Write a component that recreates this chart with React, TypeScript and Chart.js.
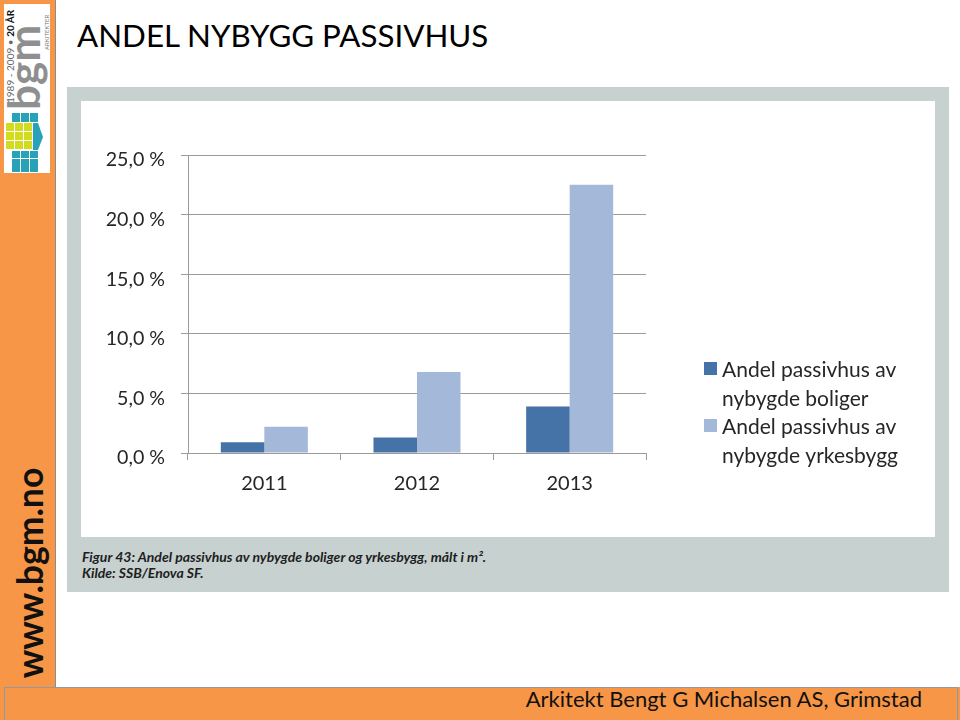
import React, { useEffect, useRef } from "react";
import { Chart, registerables } from "chart.js";

Chart.register(...registerables);

// ---- data ----
const categories = ["2011", "2012", "2013"];
const boligerValues = [0.9, 1.3, 3.9];
const yrkesbyggValues = [2.2, 6.8, 22.5];
const seriesLegendLines = [
  ["Andel passivhus av", "nybygde boliger"],
  ["Andel passivhus av", "nybygde yrkesbygg"],
];
const yTickValues = [0, 5, 10, 15, 20, 25];
const yTickLabels = ["0,0 %", "5,0 %", "10,0 %", "15,0 %", "20,0 %", "25,0 %"];

const FONT = "Lato, 'Open Sans', sans-serif";
const DARK = "#4572a7";
const LIGHT = "#a4b8da";
const GRID = "#9b9b9b";
const TEXT = "#262626";
const ORANGE = "#f79646";

const wrappedLegend = {
  id: "wrappedLegend",
  afterDraw(chart: any) {
    const ctx = chart.ctx;
    ctx.save();
    const boxX = 623;
    const textX = 641;
    const firstBaseline = 276;
    const lineH = 28.5;
    let line = 0;
    chart.data.datasets.forEach((ds: any, i: number) => {
      const lines = seriesLegendLines[i];
      const base = firstBaseline + line * lineH;
      ctx.fillStyle = ds.backgroundColor;
      ctx.fillRect(boxX, base - 15, 13, 13);
      ctx.fillStyle = TEXT;
      ctx.font = `21px ${FONT}`;
      ctx.textBaseline = "alphabetic";
      ctx.textAlign = "left";
      lines.forEach((t: string, j: number) => ctx.fillText(t, textX, base + j * lineH));
      line += lines.length;
    });
    ctx.restore();
  },
};

function ChartCanvas() {
  const ref = useRef<HTMLCanvasElement | null>(null);
  useEffect(() => {
    if (!ref.current) return;
    const chart = new Chart(ref.current, {
      type: "bar",
      data: {
        labels: categories,
        datasets: [
          {
            label: seriesLegendLines[0].join(" "),
            data: boligerValues,
            backgroundColor: DARK,
            borderWidth: 0,
            categoryPercentage: 0.57,
            barPercentage: 1,
          },
          {
            label: seriesLegendLines[1].join(" "),
            data: yrkesbyggValues,
            backgroundColor: LIGHT,
            borderWidth: 0,
            categoryPercentage: 0.57,
            barPercentage: 1,
          },
        ],
      },
      options: {
        responsive: false,
        animation: false,
        devicePixelRatio: 1,
        layout: { padding: { left: 0, top: 54, right: 289, bottom: 0 } },
        plugins: {
          legend: { display: false },
          tooltip: { enabled: false },
          title: { display: false },
        },
        scales: {
          x: {
            offset: true,
            afterFit: (s: any) => {
              s.height = 84;
            },
            grid: {
              offset: true,
              drawOnChartArea: false,
              drawTicks: true,
              tickLength: 7,
              color: GRID,
              lineWidth: 1,
            },
            border: { display: true, color: GRID, width: 1 },
            ticks: {
              color: TEXT,
              font: { family: FONT, size: 20 },
              padding: 12,
            },
          },
          y: {
            min: 0,
            max: 25,
            afterBuildTicks: (s: any) => {
              s.ticks = yTickValues.map((v) => ({ value: v }));
            },
            afterFit: (s: any) => {
              s.width = 107;
            },
            grid: {
              color: GRID,
              lineWidth: 1,
              drawTicks: true,
              tickLength: 7,
            },
            border: { display: true, color: GRID, width: 1 },
            ticks: {
              color: TEXT,
              font: { family: FONT, size: 19.6 },
              padding: 16,
              labelOffset: 5,
              callback: (_v: any, i: number) => yTickLabels[i],
            },
          },
        },
      },
      plugins: [wrappedLegend],
    } as any);
    return () => chart.destroy();
  }, []);
  return (
    <canvas
      ref={ref}
      width={854}
      height={436}
      style={{ position: "absolute", left: 81, top: 101, width: 854, height: 436 }}
    />
  );
}

function Logo() {
  const teal = "#27a2b7";
  const yellow = "#d3db1f";
  const cells: any[] = [];
  [12, 21, 30].forEach((x, k) => cells.push(<rect key={"t" + k} x={x} y={113} width={8} height={9} fill={teal} />));
  [123, 132, 141].forEach((y, r) =>
    [6, 15, 24].forEach((x, c) =>
      cells.push(<rect key={"y" + r + c} x={x} y={y} width={8} height={8} fill={yellow} />)
    )
  );
  [151, 159, 166].forEach((y, r) =>
    [12, 21, 30].forEach((x, c) =>
      cells.push(<rect key={"b" + r + c} x={x} y={y} width={8} height={y === 166 ? 6 : 7} fill={teal} />)
    )
  );
  return (
    <svg width={56} height={180} style={{ position: "absolute", left: 0, top: 0 }}>
      <rect x={4} y={4} width={46} height={169} fill="#ffffff" />
      <text transform="translate(14,103) rotate(-90)" fontFamily={FONT} fontSize={10} fill="#666">
        1989 - 2009 • <tspan fontWeight="bold" fill="#111">20 ÅR</tspan>
      </text>
      <text
        transform="translate(40,110) rotate(-90)"
        fontFamily={FONT}
        fontSize={44}
        fontWeight="bold"
        fill="#8f8f8f"
      >
        bgm
      </text>
      <text transform="translate(49,50) rotate(-90)" fontFamily={FONT} fontSize={6} fill="#777">
        ARKITEKTER
      </text>
      {cells}
      <polygon points="33,123 38,123 43,137 38,150 33,150" fill={teal} />
    </svg>
  );
}

export default function App() {
  return (
    <div
      style={{
        position: "fixed",
        left: 0,
        top: 0,
        width: 960,
        height: 720,
        overflow: "hidden",
        background: "#ffffff",
        fontFamily: FONT,
      }}
    >
      <div
        style={{
          position: "absolute",
          left: 0,
          top: 0,
          width: 55,
          height: 688,
          background: ORANGE,
          borderRight: "1px solid #8c8c8c",
        }}
      />
      <Logo />
      <div
        style={{
          position: "absolute",
          left: 30 - 110,
          top: 573 - 20,
          width: 220,
          height: 40,
          lineHeight: "40px",
          textAlign: "center",
          fontSize: 35.5,
          fontWeight: "bold",
          color: "#111",
          transform: "rotate(-90deg)",
          whiteSpace: "nowrap",
        }}
      >
        www.bgm.no
      </div>

      <div
        style={{
          position: "absolute",
          left: 77,
          top: 20,
          fontSize: 31.3,
          lineHeight: "31px",
          color: "#000",
          whiteSpace: "nowrap",
        }}
      >
        ANDEL NYBYGG PASSIVHUS
      </div>

      <div
        style={{
          position: "absolute",
          left: 67,
          top: 87,
          width: 882,
          height: 505,
          background: "#c6d1d0",
        }}
      />
      <div
        style={{
          position: "absolute",
          left: 81,
          top: 101,
          width: 854,
          height: 436,
          background: "#ffffff",
        }}
      />
      <ChartCanvas />
      <div
        style={{
          position: "absolute",
          left: 82,
          top: 549,
          fontSize: 14,
          lineHeight: "15.5px",
          fontStyle: "italic",
          fontWeight: "bold",
          color: "#1e1e1e",
          whiteSpace: "nowrap",
        }}
      >
        <div>Figur 43: Andel passivhus av nybygde boliger og yrkesbygg, målt i m².</div>
        <div>Kilde: SSB/Enova SF.</div>
      </div>

      <div
        style={{
          position: "absolute",
          left: 0,
          top: 687,
          width: 960,
          height: 33,
          background: ORANGE,
        }}
      />
      <div
        style={{
          position: "absolute",
          left: 4,
          top: 687,
          width: 954,
          height: 40,
          boxSizing: "border-box",
          border: "1px solid #8f9aa6",
          background: ORANGE,
        }}
      />
      <div
        style={{
          position: "absolute",
          right: 38,
          top: 688,
          fontSize: 22,
          lineHeight: "22px",
          color: "#111",
          whiteSpace: "nowrap",
        }}
      >
        Arkitekt Bengt G Michalsen AS, Grimstad
      </div>
    </div>
  );
}
